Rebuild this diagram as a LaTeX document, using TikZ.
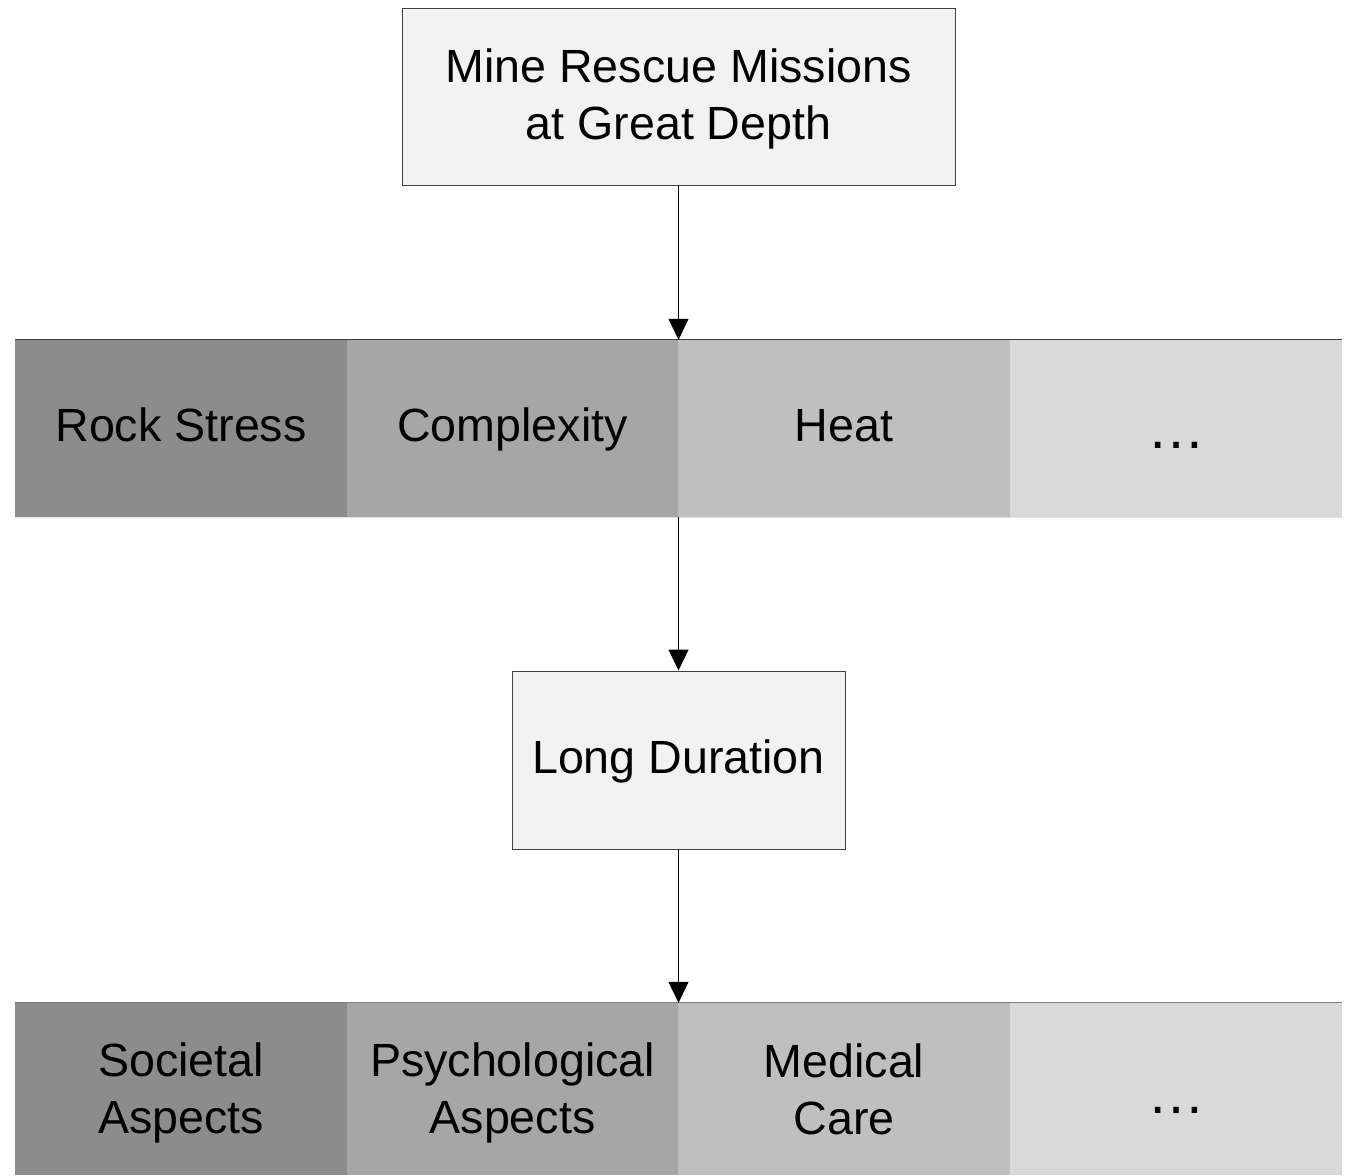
\documentclass[tikz,border=0pt]{standalone}
\usepackage{fontspec}
\setmainfont{Liberation Sans}
\usetikzlibrary{arrows.meta}
\definecolor{cone}{HTML}{8C8C8C}
\definecolor{ctwo}{HTML}{A6A6A6}
\definecolor{cthree}{HTML}{BFBFBF}
\definecolor{cfour}{HTML}{D9D9D9}
\definecolor{boxfill}{HTML}{F2F2F2}
\definecolor{edgegray}{HTML}{404040}
\begin{document}
\begin{tikzpicture}[x=1pt,y=-1pt,
  lbl/.style={font=\fontsize{46.6}{57}\selectfont, align=center, inner sep=0pt, text=black},
  onel/.style={text height=34pt, text depth=8pt},
  dotsl/.style={font=\fontsize{58}{60}\selectfont, text height=40pt, text depth=0pt},
  mainbox/.style={lbl, draw=edgegray, line width=1pt, fill=boxfill},
  cellA/.style={lbl, fill=cone, minimum width=332pt},
  cellB/.style={lbl, fill=ctwo, minimum width=331pt},
  cellC/.style={lbl, fill=cthree, minimum width=332pt},
  cellD/.style={lbl, fill=cfour, minimum width=332pt},
  arr/.style={line width=1pt, black, -{Triangle[width=20pt,length=21pt]}}
]
\useasboundingbox (0,0) rectangle (1348,1175);
\fill[white] (0,0) rectangle (1348,1175);

% top box
\node[mainbox, minimum width=553pt, minimum height=177pt] (top) at (678.5,96.5) {};
\node[lbl] (toptext) at ([yshift=-2pt]top.center) {Mine Rescue Missions\\at Great Depth};

% row 1
\node[cellA, minimum height=177pt, onel] (ra) at (181,428.5) {Rock Stress};
\node[cellB, minimum height=177pt, onel] (rb) at (512.5,428.5) {Complexity};
\node[cellC, minimum height=177pt, onel] (rc) at (844,428.5) {Heat};
\node[cellD, minimum height=177pt, dotsl] (rd) at (1176,428.5) {…};
\draw[edgegray, line width=1pt] (ra.north west) -- (rd.north east);
\draw[black!12, line width=1pt] (ra.south west) -- (rd.south east);

% long duration
\node[mainbox, minimum width=333pt, minimum height=178pt, onel] (long) at (678.5,760) {Long Duration};

% row 2
\node[cellA, minimum height=172pt] (sa) at (181,1089) {};
\node[lbl] (satext) at (181,1093) {Societal\\Aspects};
\node[cellB, minimum height=172pt] (sb) at (512.5,1089) {};
\node[lbl] (sbtext) at (512.5,1093) {Psychological\\Aspects};
\node[cellC, minimum height=172pt] (sc) at (844,1089) {Medical\\Care};
\node[cellD, minimum height=172pt] (sd) at (1176,1089) {};
\node[lbl, dotsl] (sdtext) at (1176,1093) {…};
\draw[black!50, line width=1pt] (sa.north west) -- (sd.north east);

% connectors
\draw[arr] (top.south) -- (top.south |- rb.north east);
\draw[arr] (long.north |- rb.south east) -- (long.north);
\draw[arr] (long.south) -- (long.south |- sb.north east);
\end{tikzpicture}
\end{document}
